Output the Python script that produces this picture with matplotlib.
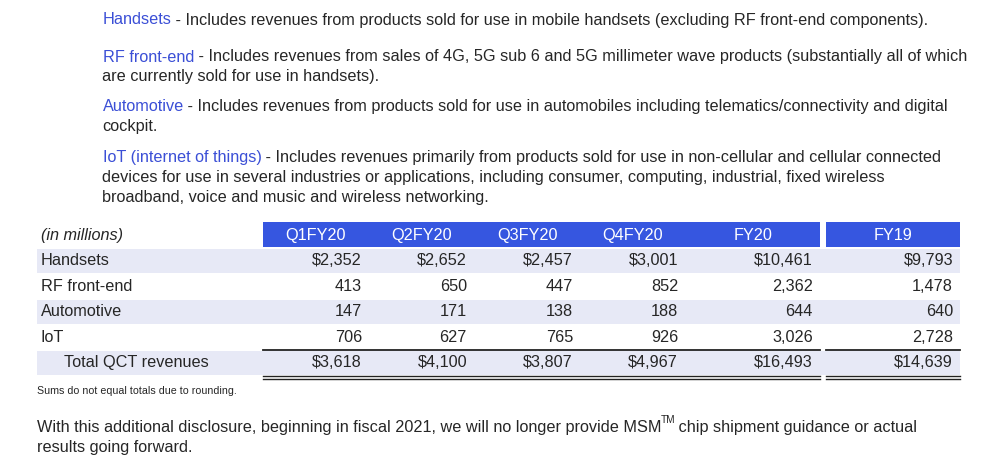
import matplotlib
matplotlib.use("Agg")
import matplotlib.pyplot as plt
from matplotlib.patches import Rectangle

plt.rcParams['font.family'] = ['Liberation Sans', 'DejaVu Sans']

# ---------------- data ----------------
columns = ["Q1FY20", "Q2FY20", "Q3FY20", "Q4FY20", "FY20", "FY19"]
rows = ["Handsets", "RF front-end", "Automotive", "IoT"]
handsets = [2352, 2652, 2457, 3001, 10461, 9793]
rf_front_end = [413, 650, 447, 852, 2362, 1478]
automotive = [147, 171, 138, 188, 644, 640]
iot = [706, 627, 765, 926, 3026, 2728]
total_label = "Total QCT revenues"
total_qct = [3618, 4100, 3807, 4967, 16493, 14639]
unit_label = "(in millions)"

definitions = [
    ("Handsets", " - Includes revenues from products sold for use in mobile handsets (excluding RF front-end components).", None),
    ("RF front-end", " - Includes revenues from sales of 4G, 5G sub 6 and 5G millimeter wave products (substantially all of which",
     "are currently sold for use in handsets)."),
    ("Automotive", " - Includes revenues from products sold for use in automobiles including telematics/connectivity and digital",
     "cockpit."),
    ("IoT (internet of things)", " - Includes revenues primarily from products sold for use in non-cellular and cellular connected",
     "devices for use in several industries or applications, including consumer, computing, industrial, fixed wireless\nbroadband, voice and music and wireless networking."),
]
footnote = "Sums do not equal totals due to rounding."
closing_1a = "With this additional disclosure, beginning in fiscal 2021, we will no longer provide MSM"
closing_tm = "TM"
closing_1b = " chip shipment guidance or actual"
closing_2 = "results going forward."

# ---------------- layout ----------------
W, H = 1000, 465
fig = plt.figure(figsize=(W / 100, H / 100), dpi=100)
ax = fig.add_axes([0, 0, 1, 1])
ax.set_xlim(0, W)
ax.set_ylim(H, 0)
ax.axis("off")

BLUE = "#3656e0"
TERM = "#3b4fd6"
TXT = "#262626"
BAND = "#e7e9f6"
FS = 11.7

# definitions paragraphs
para_y = [20, 57, 106, 157]
lh = 20
for (term, rest, extra), y in zip(definitions, para_y):
    t = ax.text(103, y, term, color=TERM, fontsize=FS, va="center", ha="left")
    ax.annotate(rest, xy=(1, 0.5), xycoords=t, xytext=(-0.6, 0),
                textcoords="offset points", va="center", ha="left",
                color=TXT, fontsize=FS)
    if extra:
        for k, line in enumerate(extra.split("\n")):
            ax.text(102, y + lh * (k + 1), line, color=TXT, fontsize=FS, va="center", ha="left")

# table geometry
col_right = [362, 467, 573, 678, 813, 953]
col_center = [315, 422, 528, 633, 753, 893]
blocks = [(263, 820), (826, 960)]
header_top, header_bot = 222, 247
row_h = 25.5
row_top0 = 248

# header bands
for x0, x1 in blocks:
    ax.add_patch(Rectangle((x0, header_top), x1 - x0, header_bot - header_top,
                           color=BLUE, lw=0))
ax.text(41, (header_top + header_bot) / 2 + 1, unit_label, style="italic",
        fontsize=FS, color=TXT, va="center", ha="left")
for c, x in zip(columns, col_center):
    ax.text(x, (header_top + header_bot) / 2 + 1, c, color="white", fontsize=FS,
            va="center", ha="center")

all_rows = [(rows[0], handsets, True), (rows[1], rf_front_end, False),
            (rows[2], automotive, False), (rows[3], iot, False),
            (total_label, total_qct, True)]

for i, (name, vals, dollar) in enumerate(all_rows):
    top = row_top0 + i * row_h
    cy = top + row_h / 2
    if i % 2 == 0:
        ax.add_patch(Rectangle((37, top + 1), 960 - 37, row_h - 2, color=BAND, lw=0))
    lx = 64 if name == total_label else 41
    ax.text(lx, cy, name, fontsize=FS, color=TXT, va="center", ha="left")
    for v, xr in zip(vals, col_right):
        s = ("$" if dollar else "") + f"{v:,}"
        ax.text(xr, cy, s, fontsize=FS, color=TXT, va="center", ha="right")

# total rules
tot_top = row_top0 + 4 * row_h
tot_bot = tot_top + row_h
for x0, x1 in blocks:
    ax.plot([x0, x1], [tot_top, tot_top], color="#222222", lw=1.3)
    ax.plot([x0, x1], [tot_bot + 0.5, tot_bot + 0.5], color="#222222", lw=1.0)
    ax.plot([x0, x1], [tot_bot + 3, tot_bot + 3], color="#222222", lw=1.0)

ax.text(37, 391, footnote, fontsize=7.7, color=TXT, va="center", ha="left")
c1 = ax.text(37, 427, closing_1a, fontsize=FS, color=TXT, va="center", ha="left")
tm = ax.annotate(closing_tm, xy=(1, 0.5), xycoords=c1, xytext=(-0.5, 5),
                 textcoords="offset points", va="center", ha="left",
                 color=TXT, fontsize=FS * 0.62)
ax.annotate(closing_1b, xy=(1, 0.5), xycoords=tm, xytext=(-1, -5),
            textcoords="offset points", va="center", ha="left",
            color=TXT, fontsize=FS)
ax.text(37, 447, closing_2, fontsize=FS, color=TXT, va="center", ha="left")

fig.savefig("out.png", dpi=100, facecolor="white")
